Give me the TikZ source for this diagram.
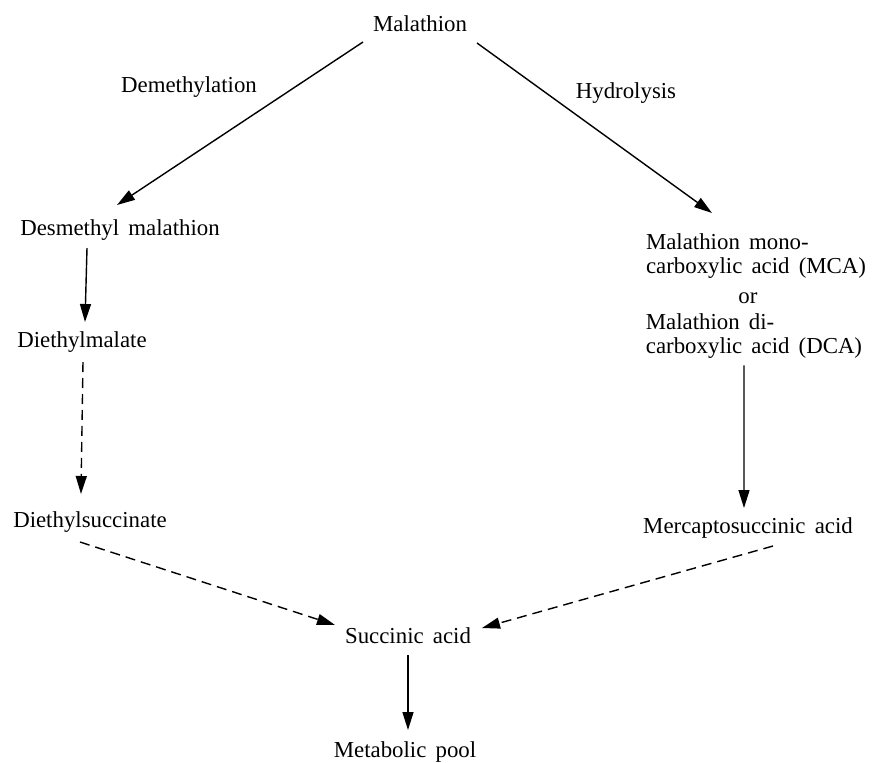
\documentclass[tikz,border=0pt]{standalone}
\usepackage{fontspec}
\setmainfont{Liberation Serif}[WordSpace=1.6]
\usetikzlibrary{positioning,calc,arrows.meta}

\begin{document}
\begin{tikzpicture}[x=0.02cm, y=-0.02cm, thick,
    every node/.style={font=\fontsize{13}{13.5}\selectfont, inner sep=1pt},
    arr/.style={-{Triangle[length=0.36cm,width=0.22cm]}, line width=0.8pt},
    darr/.style={arr, dash pattern=on 0.2cm off 0.12cm}]

  \useasboundingbox (0,0) rectangle (872,762);

  % Define nodes
  \node (malathion) at (420,24) {Malathion};
  \node (demeth) at (189,87) {Demethylation};
  \node (hydro) at (626,93) {Hydrolysis};
  \node (desm) at (120,230) {Desmethyl malathion};
  \node (dmal) at (82,342) {Diethylmalate};
  \node (dsucc) at (90,522) {Diethylsuccinate};
  \node[align=left] (mca) at (756,256) {Malathion mono-\\carboxylic acid (MCA)};
  \node[below=0.2cm of mca, xshift=-0.16cm] (or) {or};
  \node[align=left, below=0.1cm of or, xshift=0.12cm] (dca) {Malathion di-\\carboxylic acid (DCA)};
  \node (merc) at (748,528) {Mercaptosuccinic acid};
  \node (succ) at (408,636) {Succinic acid};
  \node (pool) at (405,752) {Metabolic pool};

  % Connect the nodes
  \draw[arr] ($(malathion)+(-57,18)$) -- ($(desm)+(-3,-25)$);
  \draw[arr] ($(malathion)+(57,19)$) -- ($(mca)+(-44,-43)$);
  \draw[arr] ($(desm)+(-33,18)$) -- ($(dmal)+(3,-20)$);
  \draw[darr] ($(dmal)+(1,20)$) -- ($(dsucc)+(-9,-28)$);
  \draw[arr] ($(dca)+(-10,29)$) -- ($(merc)+(-4,-20)$);
  \draw[darr] ($(dsucc)+(-10,20)$) -- ($(succ)+(-73,-11)$);
  \draw[darr] ($(merc)+(25,18)$) -- ($(succ)+(74,-8)$);
  \draw[arr] ($(succ)+(0,19)$) -- ($(pool)+(3,-22)$);

\end{tikzpicture}
\end{document}
